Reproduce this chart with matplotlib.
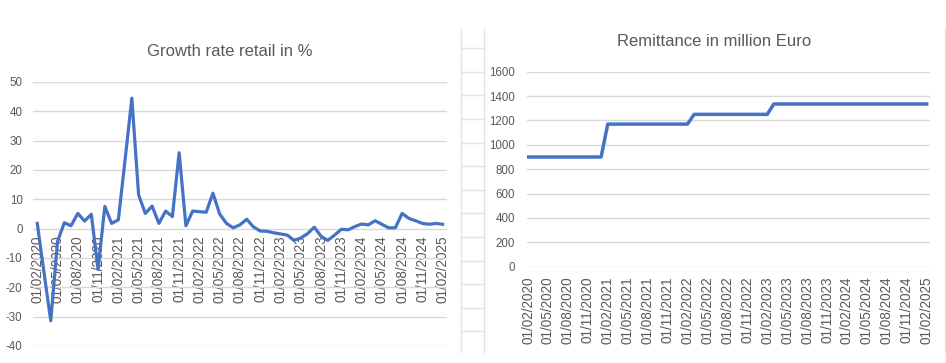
import numpy as np
import pandas as pd
import matplotlib
matplotlib.use('Agg')
import matplotlib.pyplot as plt
from matplotlib.lines import Line2D

plt.rcParams['font.family'] = ['Liberation Sans', 'DejaVu Sans']
plt.rcParams['axes.unicode_minus'] = False

# monthly, 01/02/2020 .. 01/02/2025
months = pd.date_range('2020-02-01', '2025-02-01', freq='MS')
month_labels = [d.strftime('%d/%m/%Y') for d in months]

# growth rate retail in %
growth = [1.8, -15.0, -31.4, -4.4, 2.0, 1.0, 5.2, 2.6, 4.9, -13.9,
          7.6, 1.8, 3.0, 23.5, 44.5, 11.5, 5.2, 7.7, 1.8, 6.0,
          4.1, 25.9, 1.0, 6.0, 5.8, 5.6, 12.1, 5.0, 1.8, 0.3,
          1.3, 3.2, 0.6, -0.8, -0.9, -1.4, -1.8, -2.2, -4.0, -3.2,
          -1.7, 0.5, -2.6, -4.0, -2.2, -0.2, -0.4, 0.7, 1.6, 1.3,
          2.7, 1.5, 0.3, 0.3, 5.2, 3.5, 2.7, 1.8, 1.5, 1.8,
          1.5]

# remittance in million Euro
remittance = ([900] * 12 + [1170] * 13 + [1250] * 12 + [1335] * 24)

blue = '#4472C4'
grid_c = '#D9D9D9'
txt_c = '#595959'

W, H = 946, 363
fig = plt.figure(figsize=(W / 100, H / 100), dpi=100)

def box(x0, y0, x1, y1):
    # pixel box (top-left origin) -> figure fractions
    return [x0 / W, 1 - y1 / H, (x1 - x0) / W, (y1 - y0) / H]

x = np.arange(len(months))
ticks = x[::3]
tick_labels = month_labels[::3]

def style(ax, ypad, xpad):
    for s in ax.spines.values():
        s.set_visible(False)
    ax.grid(axis='y', color=grid_c, lw=1.0)
    ax.set_axisbelow(True)
    ax.tick_params(axis='both', length=0, colors=txt_c)
    ax.tick_params(axis='y', labelsize=8.3, pad=ypad)
    ax.tick_params(axis='x', labelsize=9.8, pad=xpad, rotation=90)
    ax.set_xticks(ticks)
    ax.set_xticklabels(tick_labels)

# left: growth rate
ax1 = fig.add_axes(box(33, 82, 446.7, 346))
ax1.plot(x, growth, color=blue, lw=2.3)
ax1.set_ylim(-40, 50)
ax1.set_yticks(np.arange(-40, 51, 10))
ax1.set_xlim(-0.63, 60.6)
style(ax1, 7.5, 5)
ax1.spines['bottom'].set_position(('data', 0))

# right: remittance
ax2 = fig.add_axes(box(526.7, 71.7, 930, 266.7))
ax2.plot(x, remittance, color=blue, lw=2.5)
ax2.set_ylim(0, 1600)
ax2.set_yticks(np.arange(0, 1601, 200))
ax2.set_xlim(-0.2, 60.5)
style(ax2, 8.5, 7)

fig.text(230 / W, 1 - 52 / H, 'Growth rate retail in %', ha='center',
         va='center', fontsize=12, color=txt_c)
fig.text(714 / W, 1 - 42 / H, 'Remittance in million Euro', ha='center',
         va='center', fontsize=12, color=txt_c)

# spreadsheet cell lines between / beside the charts
cell_c = '#E3E3E3'
for xp in (460.7, 484.3, 945):
    fig.add_artist(Line2D([xp / W, xp / W], [1 - 29 / H, 1 - 352 / H],
                          color=cell_c, lw=1.0))
for k in range(13):
    yp = 48.1 + 23.6 * k
    fig.add_artist(Line2D([460.7 / W, 484.3 / W], [1 - yp / H, 1 - yp / H],
                          color=cell_c, lw=1.0))

fig.savefig('out.png', dpi=100)
